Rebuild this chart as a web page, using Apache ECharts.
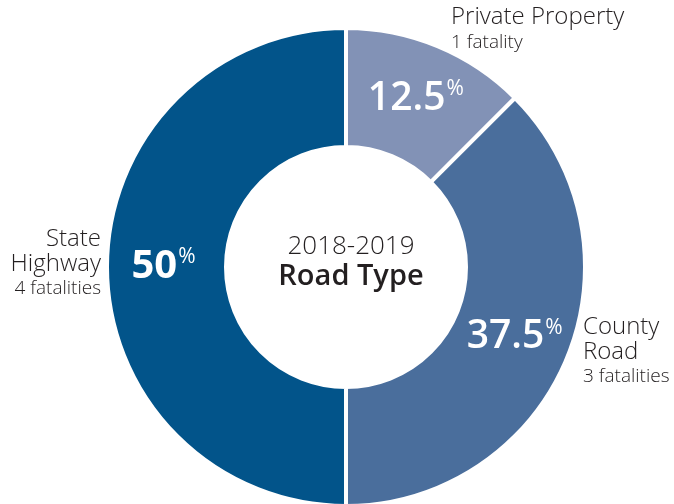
<!DOCTYPE html>
<html>
<head>
<meta charset="utf-8">
<script src="https://cdn.jsdelivr.net/npm/echarts@6/dist/echarts.min.js"></script>
<style>
  html, body {margin: 0; padding: 0; background: #fff;}
  #chart {width: 674px; height: 504px;}
</style>
</head>
<body>
<div id="chart"></div>
<script>
  const names = ['Private Property', 'County Road', 'State Highway'];
  const labelNames = ['Private Property', 'County\nRoad', 'State\nHighway'];
  const fatalities = [1, 3, 4];
  const colors = ['#8292b6', '#4a6e9c', '#02548a'];
  const yearText = '2018-2019';
  const titleText = 'Road Type';

  // outer label anchor points: [x, y, align]
  const outerPos = [[451, 30, 'left'], [583, 352, 'left'], [101, 264, 'right']];

  const data = names.map((n, i) => ({
    name: n,
    value: fatalities[i],
    itemStyle: {color: colors[i]}
  }));

  const font = '"Open Sans", "Noto Sans", sans-serif';

  const option = {
    animation: false,
    title: {
      text: yearText,
      subtext: titleText,
      left: 346,
      top: 229,
      textAlign: 'center',
      itemGap: 2,
      textStyle: {fontFamily: font, fontSize: 26, fontWeight: 300, color: '#231f20'},
      subtextStyle: {fontFamily: font, fontSize: 29, fontWeight: 600, color: '#231f20'}
    },
    series: [
      {
        type: 'pie',
        center: [346, 267],
        radius: [120, 239],
        startAngle: 90,
        silent: true,
        itemStyle: {borderColor: '#fff', borderWidth: 4},
        label: {
          position: 'inside',
          overflow: 'none',
          formatter: p => (p.dataIndex === 2 ? '{b|' : '{n|') + p.percent + '}{p|%}',
          rich: {
            n: {fontFamily: font, fontSize: 39, fontWeight: 600, color: '#fff', padding: [0, 1, 0, 0]},
            b: {fontFamily: font, fontSize: 40, fontWeight: 'bold', color: '#fff', padding: [0, 1, 0, 0]},
            p: {fontFamily: font, fontSize: 21, color: '#fff', verticalAlign: 'top', padding: [0, 0, 13, 0]}
          }
        },
        data: data
      },
      {
        type: 'pie',
        center: [346, 267],
        radius: [120, 239],
        startAngle: 90,
        silent: true,
        itemStyle: {color: 'transparent'},
        labelLine: {show: false},
        label: {
          position: 'outside',
          overflow: 'none',
          formatter: p => {
            const lines = labelNames[p.dataIndex].split('\n').map(s => '{t|' + s + '}');
            const f = fatalities[p.dataIndex];
            lines.push('{s|' + f + (f === 1 ? ' fatality' : ' fatalities') + '}');
            return lines.join('\n');
          },
          rich: {
            t: {fontFamily: font, fontSize: 24, fontWeight: 300, color: '#231f20', lineHeight: 25},
            s: {fontFamily: font, fontSize: 19, fontWeight: 300, color: '#231f20', lineHeight: 25}
          }
        },
        labelLayout: p => {
          const pos = outerPos[p.dataIndex];
          return {x: pos[0], y: pos[1], align: pos[2], verticalAlign: 'middle'};
        },
        data: data.map(d => ({name: d.name, value: d.value}))
      }
    ]
  };

  echarts.init(document.getElementById('chart')).setOption(option);
</script>
</body>
</html>
